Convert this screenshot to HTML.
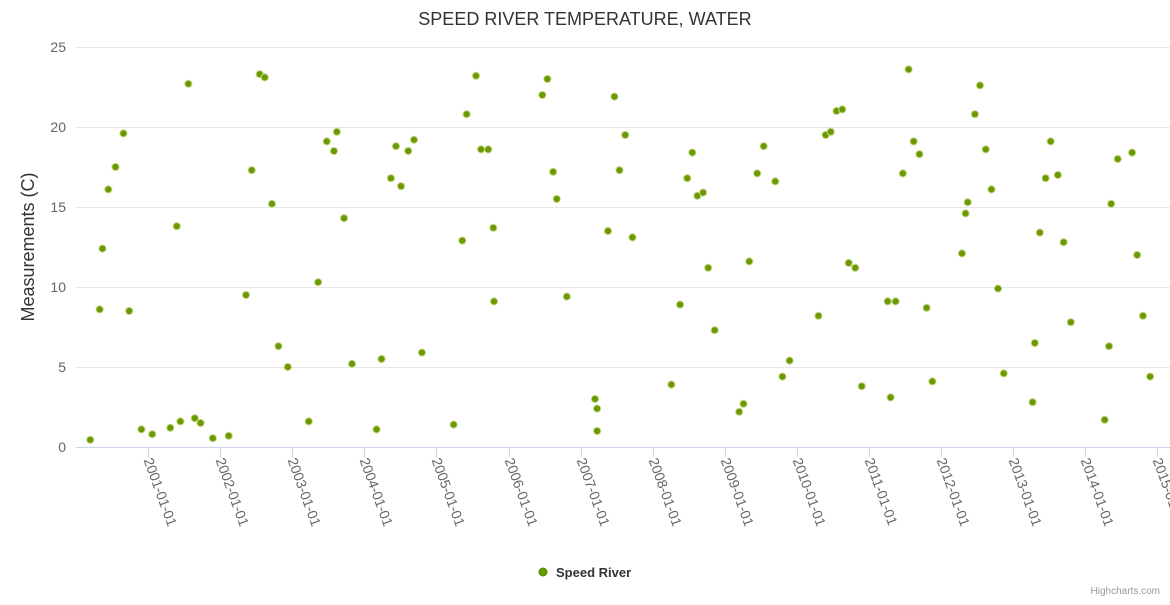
<!DOCTYPE html>
<html><head><meta charset="utf-8"><style>
body{margin:0;background:#fff;font-family:"Liberation Sans",sans-serif}
</style></head><body>
<svg width="1170" height="600" xmlns="http://www.w3.org/2000/svg" font-family="Liberation Sans, sans-serif">
<rect width="1170" height="600" fill="#fff"/>
<text x="585" y="25" text-anchor="middle" font-size="18" fill="#333">SPEED RIVER TEMPERATURE, WATER</text>
<g id="grid"></g>
<g id="xaxis"></g>
<g id="yaxis"></g>
<text transform="translate(34,247) rotate(-90)" text-anchor="middle" font-size="18" fill="#333">Measurements (C)</text>
<g id="points"></g>
<g>
<circle cx="543" cy="572" r="4" fill="#6a9a00" stroke="#4a8a00"/>
<text x="556" y="577" font-size="13" font-weight="bold" fill="#333">Speed River</text>
</g>
<text x="1160" y="594" text-anchor="end" font-size="10" fill="#999">Highcharts.com</text>
</svg>
<script>
const dates=[2000.22,2000.35,2000.39,2000.47,2000.57,2000.68,2000.76,2000.93,2001.08,2001.33,2001.42,2001.47,2001.58,2001.67,2001.75,2001.92,2002.14,2002.38,2002.46,2002.57,2002.64,2002.74,2002.83,2002.96,2003.25,2003.38,2003.50,2003.60,2003.64,2003.74,2003.85,2004.19,2004.26,2004.39,2004.46,2004.53,2004.63,2004.71,2004.82,2005.26,2005.38,2005.44,2005.57,2005.64,2005.74,2005.81,2005.82,2006.49,2006.56,2006.64,2006.69,2006.83,2007.22,2007.25,2007.25,2007.40,2007.49,2007.56,2007.64,2007.74,2008.28,2008.40,2008.50,2008.57,2008.64,2008.72,2008.79,2008.88,2009.22,2009.28,2009.36,2009.47,2009.56,2009.72,2009.82,2009.92,2010.32,2010.42,2010.49,2010.57,2010.65,2010.74,2010.83,2010.92,2011.28,2011.32,2011.39,2011.49,2011.57,2011.64,2011.72,2011.82,2011.90,2012.31,2012.36,2012.39,2012.49,2012.56,2012.64,2012.72,2012.81,2012.89,2013.29,2013.32,2013.39,2013.47,2013.54,2013.64,2013.72,2013.82,2014.29,2014.35,2014.38,2014.47,2014.67,2014.74,2014.82,2014.92];
const temps=[0.45,8.6,12.4,16.1,17.5,19.6,8.5,1.1,0.8,1.2,13.8,1.6,22.7,1.8,1.5,0.55,0.7,9.5,17.3,23.3,23.1,15.2,6.3,5.0,1.6,10.3,19.1,18.5,19.7,14.3,5.2,1.1,5.5,16.8,18.8,16.3,18.5,19.2,5.9,1.4,12.9,20.8,23.2,18.6,18.6,13.7,9.1,22.0,23.0,17.2,15.5,9.4,3.0,2.4,1.0,13.5,21.9,17.3,19.5,13.1,3.9,8.9,16.8,18.4,15.7,15.9,11.2,7.3,2.2,2.7,11.6,17.1,18.8,16.6,4.4,5.4,8.2,19.5,19.7,21.0,21.1,11.5,11.2,3.8,9.1,3.1,9.1,17.1,23.6,19.1,18.3,8.7,4.1,12.1,14.6,15.3,20.8,22.6,18.6,16.1,9.9,4.6,2.8,6.5,13.4,16.8,19.1,17.0,12.8,7.8,1.7,6.3,15.2,18.0,18.4,12.0,8.2,4.4];
const yTicks=[0,5,10,15,20,25];
const xTickYears=[2001,2002,2003,2004,2005,2006,2007,2008,2009,2010,2011,2012,2013,2014,2015];
const NS='http://www.w3.org/2000/svg';
function xs(v){return 148+(v-2001)*72.1;}
function ys(v){return 447-v*16;}
function mk(t,a,p){const e=document.createElementNS(NS,t);for(const k in a)e.setAttribute(k,a[k]);p.appendChild(e);return e;}
const grid=document.getElementById('grid'),ya=document.getElementById('yaxis'),xa=document.getElementById('xaxis'),pts=document.getElementById('points');
yTicks.forEach(v=>{
 const l=mk('line',{x1:76,x2:1170,y1:ys(v)+0.5,y2:ys(v)+0.5,stroke:'#e6e6e6'},grid);
 
 
 const t=mk('text',{x:66,y:ys(v)+5,'text-anchor':'end','font-size':14,fill:'#666'},ya);
 t.textContent=v;
 
 
});
const ax=mk('line',{x1:76,x2:1170,y1:447.5,y2:447.5,stroke:'#ccd6eb'},xa);


xTickYears.forEach(y=>{
 const x=Math.round(xs(y))+0.5;
 const tk=mk('line',{x1:x,x2:x,y1:447,y2:457,stroke:'#ccd6eb'},xa);
 
 
 const t=mk('text',{transform:`translate(${x-5},460) rotate(70)`,'font-size':14,fill:'#666'},xa);
 t.textContent=y+'-01-01';
 
 
});
dates.forEach((d,i)=>{
 const c=mk('circle',{cx:xs(d)-1.5,cy:ys(temps[i]),r:3.6,fill:'#6a9a00',stroke:'#c8d890','stroke-width':1},pts);
 
 
});
</script>
</body></html>
